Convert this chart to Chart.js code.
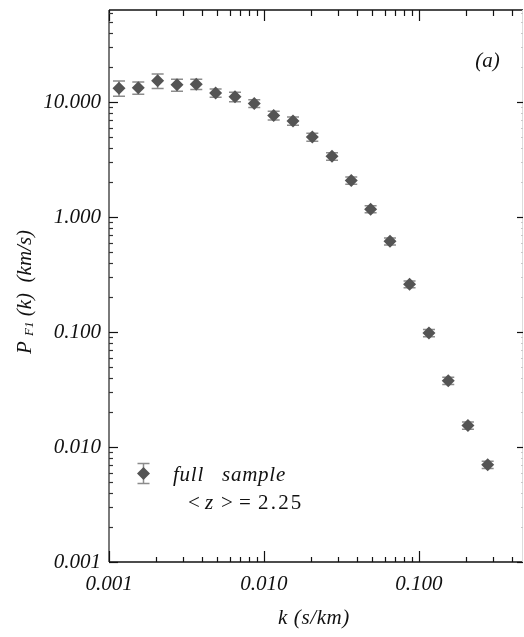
<!DOCTYPE html>
<html>
<head>
<meta charset="utf-8">
<script src="https://cdn.jsdelivr.net/npm/chart.js@4.4.1/dist/chart.umd.min.js"></script>
<style>
  html, body { margin: 0; padding: 0; background: #ffffff; }
  #wrap { width: 524px; height: 637px; }
</style>
</head>
<body>
<div id="wrap"><canvas id="c" width="524" height="637"></canvas></div>
<script>
// Flux power spectrum of the full sample
const kValues = [0.00116, 0.001545, 0.00206, 0.002746, 0.003657, 0.004875, 0.0065, 0.008655,
                 0.01155, 0.01539, 0.0205, 0.02748, 0.03656, 0.04875, 0.065, 0.08693,
                 0.116, 0.1545, 0.207, 0.2775];
const powerF1 = [13.2, 13.3, 15.3, 14.1, 14.3, 12.0, 11.1, 9.72,
                 7.64, 6.84, 4.96, 3.37, 2.08, 1.17, 0.614, 0.260,
                 0.098, 0.0377, 0.0154, 0.0070];
const powerErr = [2.0, 1.6, 2.2, 1.7, 1.45, 1.0, 1.05, 0.75,
                  0.65, 0.55, 0.40, 0.25, 0.15, 0.08, 0.042, 0.018,
                  0.007, 0.0027, 0.0011, 0.0005];

const xTickValues = [0.001, 0.01, 0.1];
const xTickLabels = ['0.001', '0.010', '0.100'];
const yTickValues = [0.001, 0.01, 0.1, 1, 10];
const yTickLabels = ['0.001', '0.010', '0.100', '1.000', '10.000'];

const legendName = 'full   sample';
const legendRedshift = ['<', 'z', '>', '=', '2.25'];
const panelLabel = '(a)';

const SERIF = '"Liberation Serif", "Times New Roman", serif';
const FONT_MAIN = 'italic 21px ' + SERIF;
const MARKER = '#545454';
const ERRBAR = '#8c8c8c';

function minorTickValues(min, max) {
  const out = [];
  for (let e = Math.floor(Math.log10(min)); e <= Math.ceil(Math.log10(max)); e++) {
    for (let m = 2; m <= 9; m++) {
      const v = m * Math.pow(10, e);
      if (v > min * 1.0001 && v < max * 0.9999) out.push(v);
    }
  }
  return out;
}

const errorBars = {
  id: 'errorBars',
  beforeDatasetsDraw(chart) {
    const ctx = chart.ctx, xs = chart.scales.x, ys = chart.scales.y;
    ctx.save();
    ctx.strokeStyle = ERRBAR;
    ctx.lineWidth = 1.5;
    for (let i = 0; i < kValues.length; i++) {
      const px = xs.getPixelForValue(kValues[i]);
      const yHi = ys.getPixelForValue(powerF1[i] + powerErr[i]);
      const yLo = ys.getPixelForValue(powerF1[i] - powerErr[i]);
      ctx.beginPath();
      ctx.moveTo(px, yHi); ctx.lineTo(px, yLo);
      ctx.moveTo(px - 6, yHi); ctx.lineTo(px + 6, yHi);
      ctx.moveTo(px - 6, yLo); ctx.lineTo(px + 6, yLo);
      ctx.stroke();
    }
    ctx.restore();
  }
};

const frameAndText = {
  id: 'frameAndText',
  afterDatasetsDraw(chart) {
    const ctx = chart.ctx, xs = chart.scales.x, ys = chart.scales.y;
    const a = chart.chartArea;
    const L = a.left, R = a.right, T = a.top, B = a.bottom;
    ctx.save();

    // frame
    ctx.lineWidth = 1.5;
    ctx.strokeStyle = '#111';
    ctx.beginPath(); ctx.moveTo(L, B); ctx.lineTo(R, B); ctx.stroke();
    ctx.beginPath(); ctx.moveTo(L, T); ctx.lineTo(R, T); ctx.stroke();
    ctx.strokeStyle = '#7a7a7a';
    ctx.lineWidth = 2;
    ctx.beginPath(); ctx.moveTo(L, T); ctx.lineTo(L, B); ctx.stroke();
    ctx.strokeStyle = '#dcdcdc';
    ctx.lineWidth = 1;
    ctx.beginPath(); ctx.moveTo(R - 0.5, T); ctx.lineTo(R - 0.5, B); ctx.stroke();

    // x ticks (bottom and top, pointing inward)
    const xMin = xs.min, xMax = xs.max, yMin = ys.min, yMax = ys.max;
    ctx.strokeStyle = '#111';
    ctx.lineWidth = 1.2;
    xTickValues.forEach(v => {
      const px = Math.round(xs.getPixelForValue(v)) + 0.5;
      ctx.beginPath(); ctx.moveTo(px, B); ctx.lineTo(px, B - 11); ctx.stroke();
      ctx.beginPath(); ctx.moveTo(px, T); ctx.lineTo(px, T + 11); ctx.stroke();
    });
    minorTickValues(xMin, xMax).forEach(v => {
      const px = Math.round(xs.getPixelForValue(v)) + 0.5;
      ctx.beginPath(); ctx.moveTo(px, B); ctx.lineTo(px, B - 5); ctx.stroke();
      ctx.beginPath(); ctx.moveTo(px, T); ctx.lineTo(px, T + 6); ctx.stroke();
    });

    // y ticks (left and right, pointing inward)
    yTickValues.forEach(v => {
      const py = Math.round(ys.getPixelForValue(v)) + 0.5;
      ctx.strokeStyle = '#111';
      ctx.beginPath(); ctx.moveTo(L, py); ctx.lineTo(L + 9, py); ctx.stroke();
      ctx.beginPath(); ctx.moveTo(R, py); ctx.lineTo(R - 6, py); ctx.stroke();
    });
    minorTickValues(yMin, yMax).forEach(v => {
      const py = Math.round(ys.getPixelForValue(v)) + 0.5;
      ctx.strokeStyle = '#333';
      ctx.beginPath(); ctx.moveTo(L, py); ctx.lineTo(L + 4, py); ctx.stroke();
      ctx.strokeStyle = '#c8c8c8';
      ctx.beginPath(); ctx.moveTo(R, py); ctx.lineTo(R - 2, py); ctx.stroke();
    });

    // texts
    ctx.fillStyle = '#111';
    ctx.font = FONT_MAIN;
    ctx.textBaseline = 'alphabetic';

    ctx.textAlign = 'center';
    ctx.fillText(panelLabel, 487.5, 67);
    ctx.letterSpacing = '0.6px';
    ctx.fillText('k (s/km)', 314, 624);
    ctx.letterSpacing = '0px';

    // y-axis title with subscript
    ctx.save();
    ctx.translate(31, 354);
    ctx.rotate(-Math.PI / 2);
    ctx.textAlign = 'left';
    ctx.font = FONT_MAIN;
    ctx.fillText('P', 0, 0);
    let w = ctx.measureText('P ').width;
    ctx.font = 'italic 13px ' + SERIF;
    ctx.fillText('F1', w, 2);
    w += ctx.measureText('F1').width;
    ctx.font = FONT_MAIN;
    ctx.fillText(' (k)  (km/s)', w, 0);
    ctx.restore();

    // legend
    const lx = 143.5, ly = 473.5;
    ctx.strokeStyle = ERRBAR;
    ctx.lineWidth = 1.5;
    ctx.beginPath();
    ctx.moveTo(lx, ly - 10); ctx.lineTo(lx, ly + 10);
    ctx.moveTo(lx - 6, ly - 10); ctx.lineTo(lx + 6, ly - 10);
    ctx.moveTo(lx - 6, ly + 10); ctx.lineTo(lx + 6, ly + 10);
    ctx.stroke();
    ctx.fillStyle = MARKER;
    ctx.beginPath();
    ctx.moveTo(lx, ly - 6.5); ctx.lineTo(lx + 6.5, ly); ctx.lineTo(lx, ly + 6.5); ctx.lineTo(lx - 6.5, ly);
    ctx.closePath(); ctx.fill();

    ctx.fillStyle = '#111';
    ctx.textAlign = 'left';
    ctx.font = 'italic 21px ' + SERIF;
    ctx.letterSpacing = '0.75px';
    ctx.fillText(legendName, 173, 481);
    ctx.letterSpacing = '0px';

    // "< z > = 2.25" set piece by piece, z in italics
    const zx = [188, 205, 221, 239, 258];
    legendRedshift.forEach((s, i) => {
      ctx.font = (s === 'z' ? 'italic ' : '') + '21px ' + SERIF;
      ctx.letterSpacing = (i === 4) ? '2.2px' : '0px';
      ctx.fillText(s, zx[i], 509);
    });
    ctx.letterSpacing = '0px';

    ctx.restore();
  }
};

const points = kValues.map((k, i) => ({ x: k, y: powerF1[i] }));

function dropEdgePadding(scale) {
  scale.paddingTop = 0;
  scale.paddingBottom = 0;
  scale.paddingLeft = 0;
  scale.paddingRight = 0;
}

new Chart(document.getElementById('c'), {
  type: 'scatter',
  data: {
    datasets: [
      {
        data: points,
        pointStyle: 'rectRot',
        pointRadius: 6.5,
        pointBackgroundColor: MARKER,
        pointBorderWidth: 0,
        pointBorderColor: MARKER
      },
      {
        data: points,
        pointStyle: 'circle',
        pointRadius: 0.8,
        pointBackgroundColor: '#000',
        pointBorderWidth: 0
      }
    ]
  },
  options: {
    responsive: false,
    animation: false,
    devicePixelRatio: 1,
    layout: { autoPadding: false, padding: { top: 10, right: 1, left: 0, bottom: 0 } },
    plugins: { legend: { display: false }, tooltip: { enabled: false }, title: { display: false } },
    scales: {
      x: {
        type: 'logarithmic',
        min: 0.001,
        max: 0.469,
        grid: { display: false, drawTicks: false },
        border: { display: false },
        afterBuildTicks(scale) { scale.ticks = xTickValues.map(v => ({ value: v, major: true })); },
        afterFit(scale) { scale.height = 75; dropEdgePadding(scale); },
        ticks: {
          autoSkip: false,
          maxRotation: 0,
          padding: 10,
          color: '#111',
          font: { family: SERIF, style: 'italic', size: 21 },
          callback: (v, i) => xTickLabels[i]
        }
      },
      y: {
        type: 'logarithmic',
        min: 0.001,
        max: 63.1,
        grid: { display: false, drawTicks: false },
        border: { display: false },
        afterBuildTicks(scale) { scale.ticks = yTickValues.map(v => ({ value: v, major: true })); },
        afterFit(scale) { scale.width = 109; dropEdgePadding(scale); },
        ticks: {
          autoSkip: false,
          padding: 8,
          color: '#111',
          font: { family: SERIF, style: 'italic', size: 21 },
          callback: (v, i) => yTickLabels[i]
        }
      }
    }
  },
  plugins: [errorBars, frameAndText]
});
</script>
</body>
</html>
